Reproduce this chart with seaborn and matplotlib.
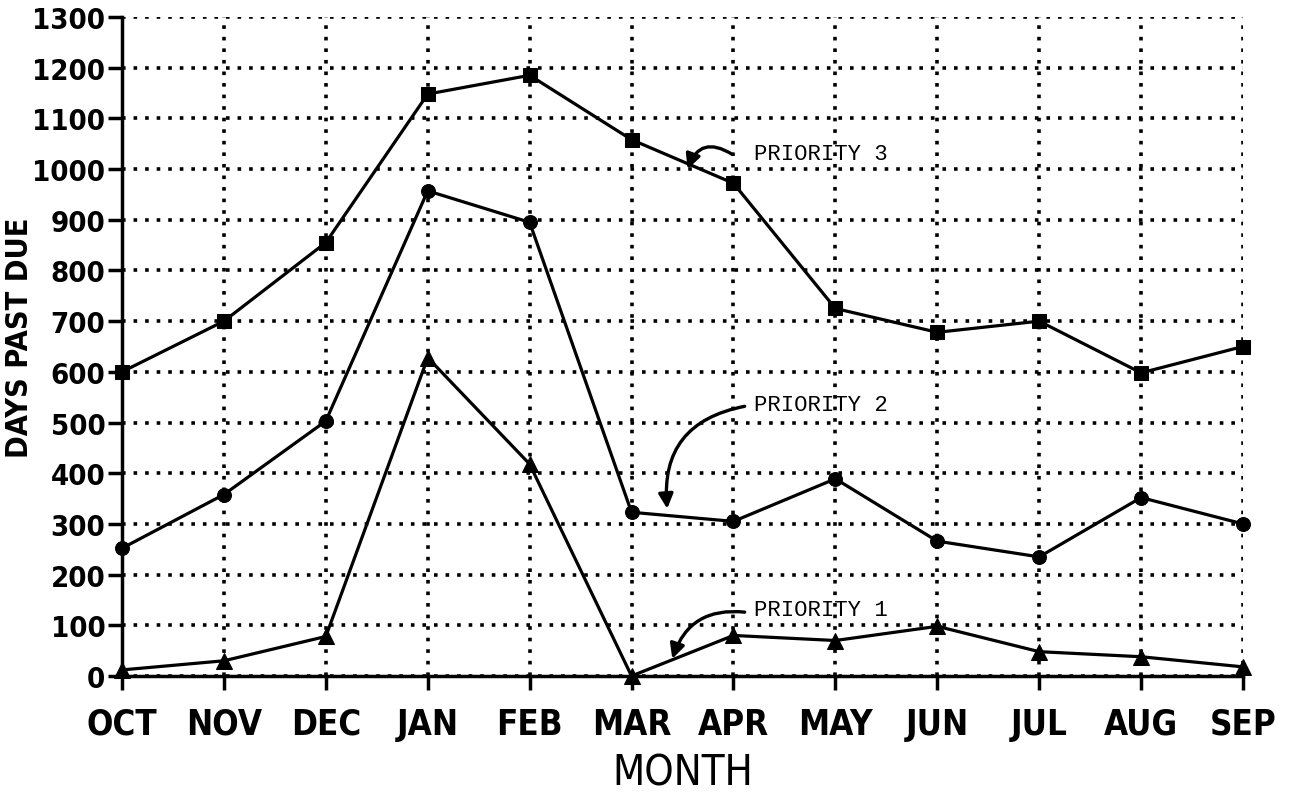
import matplotlib
matplotlib.use("Agg")
import matplotlib.pyplot as plt
import seaborn as sns
import pandas as pd
from matplotlib import font_manager

months = ["OCT", "NOV", "DEC", "JAN", "FEB", "MAR", "APR", "MAY", "JUN", "JUL", "AUG", "SEP"]
priority3 = [600, 700, 855, 1148, 1185, 1058, 972, 725, 678, 700, 598, 650]
priority2 = [252, 358, 503, 957, 895, 323, 305, 389, 266, 235, 352, 300]
priority1 = [12, 30, 78, 628, 418, 0, 80, 70, 98, 48, 38, 18]
yticks = list(range(0, 1301, 100))

sns.set_theme(style="white")
plt.rcParams['font.family'] = ['DejaVu Sans']
plt.rcParams['text.color'] = 'black'
plt.rcParams['axes.labelcolor'] = 'black'
plt.rcParams['xtick.color'] = 'black'
plt.rcParams['ytick.color'] = 'black'

names = sorted({(f.name, f.stretch, f.weight) for f in font_manager.fontManager.ttflist if 'DejaVu' in f.name or 'Narrow' in f.name or 'Condensed' in f.name})
print(names)

fig = plt.figure(figsize=(12.9, 8.03), dpi=100)
ax = fig.add_axes([122/1290, 1-677/803, (1243-122)/1290, (677-18)/803])

x = list(range(len(months)))
df = pd.DataFrame({"x": x * 3,
                   "value": priority3 + priority2 + priority1,
                   "series": ["P3"] * 12 + ["P2"] * 12 + ["P1"] * 12})

markers = {"P3": "s", "P2": "o", "P1": "^"}
for s in ["P3", "P2", "P1"]:
    sub = df[df.series == s]
    sns.lineplot(data=sub, x="x", y="value", ax=ax, color="black", lw=2.3,
                 marker=markers[s], markersize=10 if s != "P1" else 11,
                 markeredgecolor="black", markerfacecolor="black", clip_on=False, zorder=3)

ax.set_xlim(0, 11)
ax.set_ylim(0, 1300)
ax.set_xticks(x)
ax.set_xticklabels(months, fontsize=25, fontweight="bold", fontstretch="condensed")
ax.set_yticks(yticks)
ax.set_yticklabels([str(v) for v in yticks], fontsize=21, fontweight="bold", fontstretch="condensed")
ax.grid(True, color="black", linestyle=(0, (1, 2.2)), lw=2.6)
for sp in ["top", "right"]:
    ax.spines[sp].set_visible(False)
for sp in ["left", "bottom"]:
    ax.spines[sp].set_color("black")
    ax.spines[sp].set_linewidth(2.5)
ax.tick_params(axis="both", direction="out", length=10, width=2.5, color="black", pad=4)
ax.tick_params(axis="y", left=True, pad=2)
ax.tick_params(axis="x", bottom=True, pad=12)
ax.set_xlabel("MONTH", fontsize=30, labelpad=8, fontstretch="condensed")
ax.set_ylabel("")
fig.text(0.004, 0.58, "DAYS PAST DUE", rotation=90, fontsize=22, fontweight="bold",
         fontstretch="condensed", ha="left", va="center")

mono = ["Liberation Mono", "DejaVu Sans Mono"]
labels = ["PRIORITY 3", "PRIORITY 2", "PRIORITY 1"]
text_pos = [(6.2, 1030), (6.2, 536), (6.2, 132)]
arrow_start = [(5.98, 1030), (6.11, 532), (6.11, 126)]
arrow_end = [(5.55, 1000), (5.35, 330), (5.40, 34)]
rads = [0.6, 0.45, 0.4]
for lab, tp, st, en, r in zip(labels, text_pos, arrow_start, arrow_end, rads):
    ax.text(tp[0], tp[1], lab, fontsize=16, family=mono, va="center", ha="left", color="black")
    ax.annotate("", xy=en, xytext=st,
                arrowprops=dict(arrowstyle="-|>", color="black", lw=2.4, mutation_scale=22,
                                connectionstyle=f"arc3,rad={r}", shrinkA=0, shrinkB=0))

fig.savefig("out.png", dpi=100, facecolor="white")
